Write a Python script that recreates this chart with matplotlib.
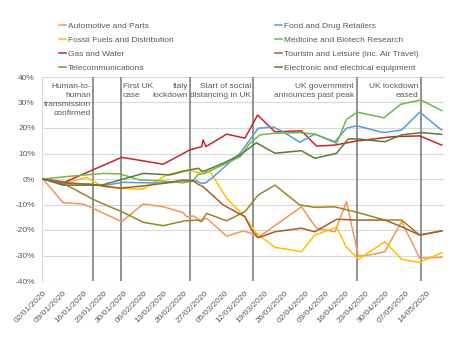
import matplotlib.pyplot as plt
from matplotlib.lines import Line2D

plt.rcParams['font.family'] = ['Liberation Sans', 'DejaVu Sans']

# x axis: days since 02/01/2020, weekly tick labels
tick_days = list(range(0, 134, 7))
tick_labels = ["02/01/2020", "09/01/2020", "16/01/2020", "23/01/2020", "30/01/2020",
               "06/02/2020", "13/02/2020", "20/02/2020", "27/02/2020", "05/03/2020",
               "12/03/2020", "19/03/2020", "26/03/2020", "02/04/2020", "09/04/2020",
               "16/04/2020", "23/04/2020", "30/04/2020", "07/05/2020", "14/05/2020"]

# series values (% change)
auto_x = [0, 7, 14, 27.3, 34.8, 41.7, 48.6, 49.8, 52.1, 54.4, 56.7, 63.7, 69.4, 71.7, 74.6,
          89.6, 94.8, 101.2, 105.2, 109.3, 113.3, 118.5, 124.3, 130.6, 138.2]
auto_y = [0, -9.3, -9.8, -16.7, -9.8, -10.9, -13.2, -14.8, -14.5, -16.1, -15.4, -22.4, -20.4,
          -21.1, -22.9, -10.9, -19.3, -20.7, -8.9, -30.2, -29.8, -28.5, -16.7, -31.1, -30.7]

fossil_x = [0, 6.9, 15.1, 20.9, 26.7, 34.8, 42.9, 49.8, 53.8, 55.5, 57.9, 63.7, 70, 74, 80.4,
            89.6, 94.2, 101.8, 105.2, 109.3, 118.5, 124.3, 130.6, 138.2]
fossil_y = [0, -1.7, 0.6, -3.0, -3.6, -4.0, 1.6, 3.5, 2.5, 2.9, 2.9, -7.6, -14.8, -21.3, -26.8,
            -28.5, -22.0, -18.9, -26.8, -31.5, -24.6, -31.5, -32.7, -28.9]

gas_x = [0, 7.6, 27.3, 41.7, 50.9, 55, 55.5, 56.5, 63.7, 70, 74.4, 80.4, 89.6, 94.8, 101.2,
         108.7, 121.3, 130.6, 138.2]
gas_y = [0, -1.2, 8.5, 5.8, 11.4, 12.7, 15.3, 12.7, 17.6, 16.0, 25.1, 18.5, 18.9, 12.9, 13.3,
         14.9, 16.6, 16.9, 13.3]

telecom_x = [0, 8.2, 17.4, 23.2, 27.3, 34.8, 41.7, 49.2, 53.3, 55, 56.7, 63.7, 70, 74.6, 80.4,
             89, 94.2, 101.2, 109.3, 118.5, 124.3, 130.6, 138.2]
telecom_y = [0, -2.4, -8.0, -10.9, -12.8, -17.0, -18.3, -16.4, -16.1, -16.7, -13.5, -16.4, -12.8,
             -6.3, -2.4, -10.2, -11.1, -10.9, -13.2, -16.1, -16.1, -22.0, -20.3]

food_x = [0, 6.9, 20.9, 27.8, 40.5, 49.8, 53.3, 54.4, 56.1, 58.5, 68.3, 74.6, 79.8, 83.3, 89,
          94.2, 101.2, 105.2, 108.7, 117.9, 124.3, 130.6, 138.2]
food_y = [0, -1.3, -2.6, -1.3, -1.6, -1.1, -0.7, -1.5, -1.7, 0.3, 10.1, 19.9, 20.4, 18.5, 14.4,
          17.6, 14.6, 19.9, 20.9, 18.2, 19.2, 26.2, 19.2]

medicine_x = [0, 8.6, 20.9, 26.7, 33.6, 40.5, 48.6, 52.1, 53.8, 56.1, 68.3, 71.7, 75.2, 79.8,
              89, 94.2, 101.8, 105.2, 109, 118.2, 124, 131, 138.2]
medicine_y = [0, 1.0, 2.2, 2.0, -0.4, -0.7, -1.5, -0.4, 1.8, 2.2, 8.7, 14.0, 17.3, 17.9,
              18.2, 17.6, 14.0, 23.4, 26.2, 24.0, 29.3, 31.0, 26.8]

tourism_x = [0, 8.4, 16.3, 26.7, 34.8, 41.7, 48.6, 52.1, 53.8, 55.5, 62.5, 70, 72.3, 74.6, 80.4,
             89.6, 94.2, 101.8, 109.3, 118.5, 124.3, 130.6, 138.2]
tourism_y = [0, -1.7, -2.0, -3.6, -2.7, -1.7, -0.4, -0.7, -2.1, -3.0, -10.2, -14.8, -20.0, -23.0,
             -20.7, -19.3, -20.7, -15.8, -16.1, -16.1, -18.7, -22.0, -20.4]

electronic_x = [0, 6.9, 20.3, 34.8, 44, 49.8, 53.8, 55.5, 62.5, 68.3, 74, 80.4, 89.6, 94.2,
                101.8, 105.8, 109.3, 118.5, 124.3, 131.2, 138.2]
electronic_y = [0, -2.4, -2.4, 2.2, 1.6, 3.3, 4.2, 2.9, 6.2, 9.4, 14.2, 10.1, 11.1, 8.1,
                10.1, 15.7, 15.7, 14.6, 17.3, 18.2, 17.5]

# event markers
event_days = [17.2, 26.9, 50.9, 72.9, 109, 130.9]

fig = plt.figure(figsize=(4.5, 3.51), dpi=100)
ax = fig.add_axes([41.8 / 450, 1 - 281 / 351, (444 - 41.8) / 450, (281 - 77) / 351])

grey_txt = "#595959"
for d in event_days:
    ax.axvline(d, color="#808080", lw=1.2, zorder=1)

series = [
    ("Automotive and Parts", auto_x, auto_y, "#F0975E"),
    ("Fossil Fuels and Distribution", fossil_x, fossil_y, "#FFC000"),
    ("Gas and Water", gas_x, gas_y, "#C9252C"),
    ("Telecommunications", telecom_x, telecom_y, "#9C8522"),
    ("Food and Drug Retailers", food_x, food_y, "#5B9BD5"),
    ("Medicine and Biotech Research", medicine_x, medicine_y, "#70B84A"),
    ("Tourism and Leisure (inc. Air Travel)", tourism_x, tourism_y, "#B05A2A"),
    ("Electronic and electrical equipment", electronic_x, electronic_y, "#5A7D35"),
]
handles = []
for name, xs, ys, c in series:
    ax.plot(xs, ys, color=c, lw=1.1, zorder=3)
    handles.append(Line2D([], [], color=c, lw=1.1, label=name))

ax.set_xlim(-0.4, 139)
ax.set_ylim(-40, 40)
ax.set_yticks(range(-40, 41, 10))
ax.set_yticklabels([f"{v}%" for v in range(-40, 41, 10)])
ax.set_xticks(tick_days)
ax.set_xticklabels(tick_labels, rotation=45, ha="right", rotation_mode="anchor")
ax.tick_params(axis="both", length=0, labelsize=6, colors=grey_txt)
ax.tick_params(axis="x", pad=6)
ax.tick_params(axis="y", pad=5)
ax.grid(axis="y", color="#D9D9D9", lw=0.8)
ax.set_axisbelow(True)
for s in ["top", "right", "bottom"]:
    ax.spines[s].set_visible(False)
ax.spines["left"].set_color("#D9D9D9")

# event annotations
fs = 6
ax.text(16.6, 37.5, "Human-to-\nhuman\ntransmission\nconfirmed", ha="right", va="top",
        fontsize=fs, color=grey_txt, linespacing=1.4)
ax.text(27.6, 37.5, "First UK\ncase", ha="left", va="top", fontsize=fs, color=grey_txt,
        linespacing=1.4)
ax.text(50.2, 37.5, "Italy\nlockdown", ha="right", va="top", fontsize=fs, color=grey_txt,
        linespacing=1.4)
ax.text(72.2, 37.5, "Start of social\ndistancing in UK", ha="right", va="top", fontsize=fs,
        color=grey_txt, linespacing=1.4)
ax.text(107.8, 37.5, "UK government\nannounces past peak", ha="right", va="top", fontsize=fs,
        color=grey_txt, linespacing=1.4)
ax.text(130.2, 37.5, "UK lockdown\neased", ha="right", va="top", fontsize=fs, color=grey_txt,
        linespacing=1.4)

leg_kw = dict(loc="upper left", frameon=False, fontsize=6, handlelength=0.85,
              handletextpad=0.25, labelspacing=0.72, borderpad=0, labelcolor=grey_txt)
fig.legend(handles=handles[:4], bbox_to_anchor=(55 / 450, 1 - 18 / 351), **leg_kw)
fig.legend(handles=handles[4:], bbox_to_anchor=(271 / 450, 1 - 18 / 351), **leg_kw)

fig.savefig("out.png", dpi=100)
